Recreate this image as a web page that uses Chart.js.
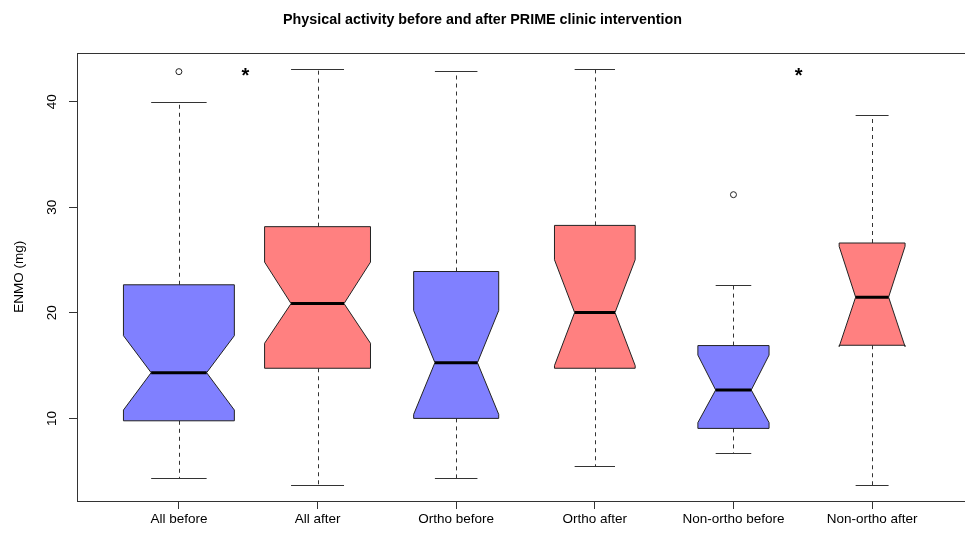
<!DOCTYPE html>
<html>
<head>
<meta charset="utf-8">
<title>Physical activity before and after PRIME clinic intervention</title>
<script src="https://cdn.jsdelivr.net/npm/chart.js@4.4.1/dist/chart.umd.min.js"></script>
<style>
  html, body { margin: 0; padding: 0; background: #fff; }
  #wrap { width: 965px; height: 534px; overflow: hidden; }
</style>
</head>
<body>
<div id="wrap"><canvas id="chart-box" width="965" height="534"></canvas></div>
<script>
// groups and box statistics (ENMO, mg)
const groups = ["All before", "All after", "Ortho before", "Ortho after", "Non-ortho before", "Non-ortho after"];
const groupSize = [34, 31, 20, 18, 14, 12];
const whiskerLow = [4.33, 3.73, 4.33, 5.47, 6.73, 3.73];
const boxLow = [9.77, 14.75, 10.0, 14.75, 9.05, 16.93];
const notchLow = [10.79, 17.12, 10.38, 15.0, 9.6, 16.8];
const medians = [14.33, 20.88, 15.28, 20.03, 12.69, 21.49];
const notchHigh = [17.84, 24.81, 20.22, 25.03, 16.0, 26.3];
const boxHigh = [22.66, 28.17, 23.92, 28.29, 16.9, 26.62];
const whiskerHigh = [40.0, 43.08, 42.89, 43.08, 22.66, 38.71];
const outliers = [[42.86], [], [], [], [31.2], []];

// significance marks between pairs
const starX = [1.48, 5.47];
const starY = [43.0, 43.0];

const yTicks = [10, 20, 30, 40];

const boxColors = ["#8080ff", "#ff8080", "#8080ff", "#ff8080", "#8080ff", "#ff8080"];
const FONT = "'Liberation Sans', Arial, sans-serif";

Chart.defaults.font.family = FONT;
Chart.defaults.color = '#000';

const maxSize = Math.max(...groupSize);

// notched boxes, whiskers, frame and stars
const notchedBoxes = {
    id: 'notchedBoxes',
    beforeDatasetsDraw(chart) {
        const { ctx, chartArea, scales: { x, y } } = chart;
        ctx.save();

        // plot frame (right side runs off the canvas)
        ctx.strokeStyle = '#333';
        ctx.lineWidth = 1;
        ctx.strokeRect(Math.round(chartArea.left) + 0.5, Math.round(chartArea.top) + 0.5,
            chartArea.right - chartArea.left + 20, Math.round(chartArea.bottom - chartArea.top));

        groups.forEach((g, i) => {
            const c = i + 1;
            const half = 0.4 * Math.sqrt(groupSize[i] / maxSize);
            const xl = x.getPixelForValue(c - half);
            const xr = x.getPixelForValue(c + half);
            const xnl = x.getPixelForValue(c - half / 2);
            const xnr = x.getPixelForValue(c + half / 2);
            const xc = Math.round(x.getPixelForValue(c)) + 0.5;

            const yWl = Math.round(y.getPixelForValue(whiskerLow[i])) + 0.5;
            const yWh = Math.round(y.getPixelForValue(whiskerHigh[i])) + 0.5;
            const yQ1 = y.getPixelForValue(boxLow[i]);
            const yQ3 = y.getPixelForValue(boxHigh[i]);
            const yNl = y.getPixelForValue(notchLow[i]);
            const yNh = y.getPixelForValue(notchHigh[i]);
            const yMed = y.getPixelForValue(medians[i]);

            // dashed whiskers
            ctx.strokeStyle = '#333';
            ctx.lineWidth = 1;
            ctx.setLineDash([4, 4]);
            ctx.beginPath();
            ctx.moveTo(xc, yQ3);
            ctx.lineTo(xc, yWh);
            ctx.moveTo(xc, yQ1);
            ctx.lineTo(xc, yWl);
            ctx.stroke();
            ctx.setLineDash([]);

            // staples
            ctx.beginPath();
            ctx.moveTo(xnl, yWh);
            ctx.lineTo(xnr, yWh);
            ctx.moveTo(xnl, yWl);
            ctx.lineTo(xnr, yWl);
            ctx.stroke();

            // notched box
            ctx.beginPath();
            ctx.moveTo(xl, yQ1);
            ctx.lineTo(xl, yNl);
            ctx.lineTo(xnl, yMed);
            ctx.lineTo(xl, yNh);
            ctx.lineTo(xl, yQ3);
            ctx.lineTo(xr, yQ3);
            ctx.lineTo(xr, yNh);
            ctx.lineTo(xnr, yMed);
            ctx.lineTo(xr, yNl);
            ctx.lineTo(xr, yQ1);
            ctx.closePath();
            ctx.fillStyle = boxColors[i];
            ctx.fill();
            ctx.strokeStyle = '#222';
            ctx.stroke();

            // median
            ctx.beginPath();
            ctx.moveTo(xnl, yMed);
            ctx.lineTo(xnr, yMed);
            ctx.lineWidth = 3;
            ctx.strokeStyle = '#000';
            ctx.stroke();
        });

        // stars
        const size = 20;
        ctx.font = 'bold ' + size + 'px ' + FONT;
        ctx.fillStyle = '#000';
        ctx.textAlign = 'center';
        ctx.textBaseline = 'alphabetic';
        starX.forEach((sx, k) => {
            ctx.fillText('*', x.getPixelForValue(sx), y.getPixelForValue(starY[k]) + 0.57 * size);
        });

        ctx.restore();
    }
};

const outlierPoints = outliers.flatMap((vals, i) => vals.map(v => ({ x: i + 1, y: v })));

new Chart(document.getElementById('chart-box'), {
    type: 'scatter',
    data: {
        datasets: [{
            data: outlierPoints,
            pointStyle: 'circle',
            pointRadius: 3,
            borderWidth: 1,
            borderColor: '#222',
            backgroundColor: 'rgba(0,0,0,0)'
        }]
    },
    plugins: [notchedBoxes],
    options: {
        responsive: false,
        animation: false,
        layout: { padding: 0, autoPadding: false },
        plugins: {
            legend: { display: false },
            tooltip: { enabled: false },
            title: {
                display: true,
                text: 'Physical activity before and after PRIME clinic intervention',
                color: '#000',
                font: { size: 14.3, weight: 'bold' },
                padding: { top: 11.5, bottom: 24 }
            }
        },
        scales: {
            x: {
                type: 'linear',
                min: 0.265,
                max: 6.67,
                afterBuildTicks: s => { s.ticks = groups.map((g, i) => ({ value: i + 1 })); },
                afterFit: s => { s.height = 33; s.paddingLeft = 0; s.paddingRight = 0; },
                ticks: {
                    callback: v => groups[v - 1],
                    autoSkip: false,
                    maxRotation: 0,
                    padding: 2,
                    font: { size: 13.5 },
                    color: '#000'
                },
                grid: { drawOnChartArea: false, tickLength: 8, color: '#333' },
                border: { display: false }
            },
            y: {
                min: 2.17,
                max: 44.66,
                afterBuildTicks: s => { s.ticks = yTicks.map(v => ({ value: v })); },
                afterFit: s => { s.width = 77; },
                ticks: {
                    minRotation: 90,
                    maxRotation: 90,
                    crossAlign: 'center',
                    padding: 9.5,
                    font: { size: 13.5 },
                    color: '#000'
                },
                title: {
                    display: true,
                    text: 'ENMO (mg)',
                    color: '#000',
                    font: { size: 13.5 },
                    padding: { top: 11.5, bottom: 0 }
                },
                grid: { drawOnChartArea: false, tickLength: 8, color: '#333' },
                border: { display: false }
            }
        }
    }
});
</script>
</body>
</html>
